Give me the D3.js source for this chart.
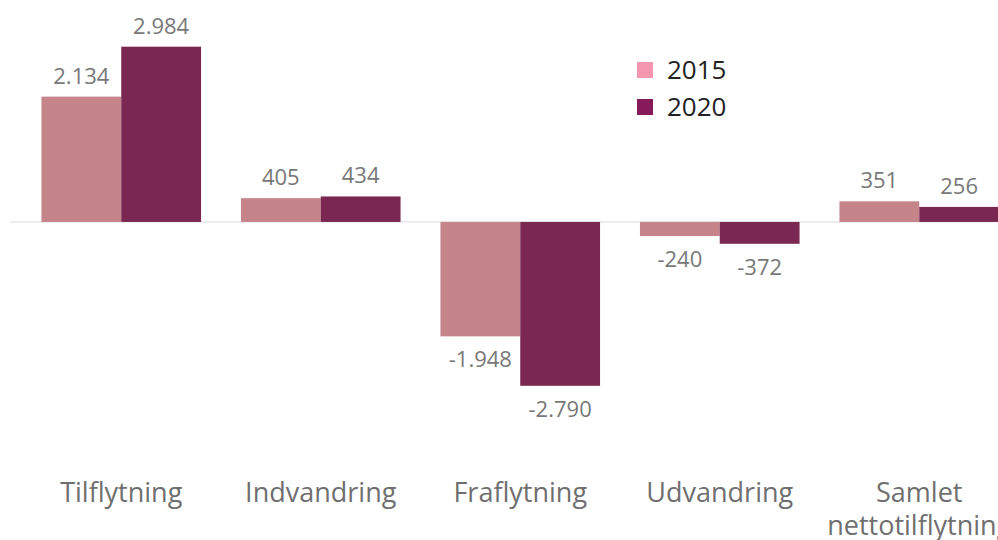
<!DOCTYPE html>
<html>
<head>
<meta charset="utf-8">
<script src="https://cdn.jsdelivr.net/npm/d3@7"></script>
<style>
  body { margin: 0; background: #fff; }
  svg { display: block; font-family: "Open Sans", sans-serif; }
</style>
</head>
<body>
<div id="viz"></div>
<script>
// categories (second line for the wrapped label)
var categories = ["Tilflytning", "Indvandring", "Fraflytning", "Udvandring", "Samlet\nnettotilflytning"];
var series = ["2015", "2020"];
var values2015 = [2134, 405, -1948, -240, 351];
var values2020 = [2984, 434, -2790, -372, 256];

const width = 998;
const height = 540;

var barColors = ["#c5838a", "#7a2852"];
var legendColors = ["#f496b0", "#861a5a"];

// danish style: dot as thousands separator, plain hyphen for minus
var fmt = function (v) {
    return d3.format(",")(v).replace(/,/g, ".").replace("\u2212", "-");
};

var svg = d3.select("#viz")
    .append("svg")
    .attr("width", width)
    .attr("height", height);

var x0 = d3.scaleBand()
    .domain(categories)
    .range([21.5, 1019])
    .paddingInner(0.2)
    .paddingOuter(0.1);

var x1 = d3.scaleBand()
    .domain(series)
    .range([0, x0.bandwidth()]);

// 2984 -> 46.7px, zero at 221.5
var y = d3.scaleLinear()
    .domain([-2790, 2984])
    .range([385.8, 46.7]);

var rows = categories.map(function (c, i) {
    return {cat: c, vals: [values2015[i], values2020[i]]};
});

// zero line
svg.append("line")
    .attr("x1", 10)
    .attr("x2", width)
    .attr("y1", y(0))
    .attr("y2", y(0))
    .attr("stroke", "#d9d9d9")
    .attr("stroke-width", 1);

var groups = svg.selectAll("g.grp")
    .data(rows)
    .enter()
    .append("g")
    .attr("class", "grp")
    .attr("transform", function (d) { return `translate(${x0(d.cat)},0)`; });

groups.selectAll("rect")
    .data(function (d) { return d.vals.map(function (v, i) { return {v: v, s: series[i], i: i}; }); })
    .enter()
    .append("rect")
    .attr("x", function (d) { return x1(d.s); })
    .attr("width", x1.bandwidth())
    .attr("y", function (d) { return Math.min(y(d.v), y(0)); })
    .attr("height", function (d) { return Math.abs(y(d.v) - y(0)); })
    .attr("fill", function (d) { return barColors[d.i]; });

groups.selectAll("text.val")
    .data(function (d) { return d.vals.map(function (v, i) { return {v: v, s: series[i], i: i}; }); })
    .enter()
    .append("text")
    .attr("class", "val")
    .attr("text-anchor", "middle")
    .attr("x", function (d) { return x1(d.s) + x1.bandwidth() / 2; })
    .attr("y", function (d) { return d.v >= 0 ? y(d.v) - 13 : y(d.v) + 31; })
    .attr("fill", "#787878")
    .style("font-size", "22px")
    .text(function (d) { return fmt(d.v); });

// category labels
var catLabels = svg.append("g").selectAll("text")
    .data(categories)
    .enter()
    .append("text")
    .attr("text-anchor", "middle")
    .attr("x", function (d) { return x0(d) + x0.bandwidth() / 2; })
    .attr("y", 502)
    .attr("fill", "#6f6f6f")
    .style("font-size", "27px");

catLabels.selectAll("tspan")
    .data(function (d) { return d.split("\n"); })
    .enter()
    .append("tspan")
    .attr("x", function () { var p = this.parentNode; return p.getAttribute("x"); })
    .attr("dy", function (d, i) { return i === 0 ? 0 : 33; })
    .text(function (d) { return d; });

// legend
var legend = svg.append("g").selectAll("g")
    .data(series)
    .enter()
    .append("g")
    .attr("transform", function (d, i) { return `translate(637,${62 + i * 37})`; });

legend.append("rect")
    .attr("width", 16)
    .attr("height", 16)
    .attr("fill", function (d, i) { return legendColors[i]; });

legend.append("text")
    .attr("x", 30)
    .attr("y", 17)
    .attr("fill", "#222")
    .style("font-size", "26px")
    .text(function (d) { return d; });
</script>
</body>
</html>
